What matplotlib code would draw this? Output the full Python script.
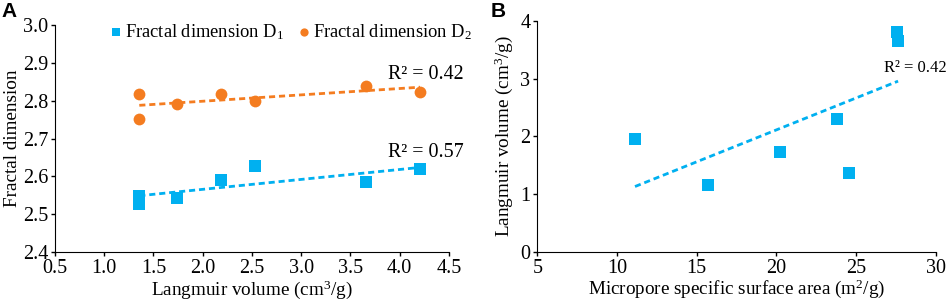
import numpy as np
import matplotlib
matplotlib.use('Agg')
import matplotlib.pyplot as plt

plt.rcParams['font.family'] = ['Liberation Serif', 'DejaVu Serif']
plt.rcParams['mathtext.fontset'] = 'custom'
plt.rcParams['mathtext.rm'] = 'Liberation Serif'
plt.rcParams['mathtext.it'] = 'Liberation Serif:italic'

BLUE = '#00B0F0'
ORANGE = '#F47C20'

# Panel A: Langmuir volume vs fractal dimensions
langmuir_a = [1.356, 1.356, 1.735, 2.19, 2.527, 3.657, 4.206]
d1 = [2.548, 2.527, 2.542, 2.590, 2.628, 2.585, 2.620]
d2 = [2.818, 2.751, 2.792, 2.817, 2.799, 2.840, 2.824]

# Panel B: micropore specific surface area vs Langmuir volume
micro_area = [11.13, 15.71, 20.21, 24.56, 23.80, 27.55, 27.64]
langmuir_b = [1.946, 1.155, 1.72, 1.363, 2.298, 3.81, 3.65]


def trend(ax, x, y, color):
    """ Linear trend line over the data range """
    k, b = np.polyfit(x, y, 1)
    xs = np.array([min(x), max(x)])
    ax.plot(xs, k * xs + b, color=color, linestyle=(0, (2.2, 1.4)), linewidth=2)


def style_axes(ax):
    ax.spines['top'].set_visible(False)
    ax.spines['right'].set_visible(False)
    ax.tick_params(direction='out', length=3, width=1, labelsize=14.5, pad=2)


fig = plt.figure(figsize=(9.48, 3.03), dpi=100)

ax1 = fig.add_axes([0.058, 0.168, 0.4156, 0.7495])
ax1.scatter(langmuir_a, d1, marker='s', s=72, color=BLUE, linewidths=0,
            label='Fractal dimension D$_1$', zorder=3)
ax1.scatter(langmuir_a, d2, marker='o', s=72, color=ORANGE, linewidths=0,
            label='Fractal dimension D$_2$', zorder=3)
trend(ax1, langmuir_a, d1, BLUE)
trend(ax1, langmuir_a, d2, ORANGE)
ax1.set_xlim(0.5, 4.5)
ax1.set_ylim(2.4, 3.0)
ax1.set_xticks(np.arange(0.5, 4.51, 0.5))
ax1.set_yticks(np.arange(2.4, 3.01, 0.1))
ax1.xaxis.set_major_formatter(matplotlib.ticker.FormatStrFormatter('%.1f'))
ax1.yaxis.set_major_formatter(matplotlib.ticker.FormatStrFormatter('%.1f'))
style_axes(ax1)
ax1.set_xlabel('Langmuir volume (cm$^3$/g)', fontsize=13.8, labelpad=0)
ax1.set_ylabel('Fractal dimension', fontsize=13.8, labelpad=1)
ax1.legend(loc='upper center', bbox_to_anchor=(0.595, 1.085), ncol=2, frameon=False,
           fontsize=13.3, handletextpad=0.0, columnspacing=0.6, markerscale=0.7,
           handlelength=1.0)
ax1.text(1.037, 0.78, 'R² = 0.42', transform=ax1.transAxes, fontsize=14.4,
         ha='right', va='center')
ax1.text(1.037, 0.44, 'R² = 0.57', transform=ax1.transAxes, fontsize=14.4,
         ha='right', va='center')

ax2 = fig.add_axes([0.5668, 0.169, 0.4202, 0.7625])
ax2.scatter(micro_area, langmuir_b, marker='s', s=72, color=BLUE, linewidths=0, zorder=3)
trend(ax2, micro_area, langmuir_b, BLUE)
ax2.set_xlim(5, 30)
ax2.set_ylim(0, 4)
ax2.set_xticks(range(5, 31, 5))
ax2.set_yticks(range(0, 5))
style_axes(ax2)
ax2.set_xlabel('Micropore specific surface area (m$^2$/g)', fontsize=13.8, labelpad=0)
ax2.set_ylabel('Langmuir volume (cm$^3$/g)', fontsize=13.8, labelpad=4)
ax2.text(0.9985, 0.775, 'R² = 0.42', transform=fig.transFigure, fontsize=12,
         ha='right', va='center')

fig.text(0.002, 0.995, 'A', fontsize=15, fontweight='bold', family='Liberation Sans',
         ha='left', va='top')
fig.text(0.518, 0.995, 'B', fontsize=15, fontweight='bold', family='Liberation Sans',
         ha='left', va='top')

fig.savefig('out.png', dpi=100)
